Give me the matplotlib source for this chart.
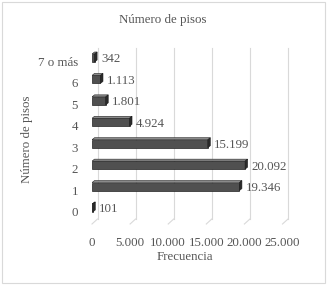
import matplotlib
matplotlib.use("Agg")
import matplotlib.pyplot as plt
from matplotlib.patches import Polygon, Rectangle

categories = ["0", "1", "2", "3", "4", "5", "6", "7 o más"]
values = [101, 19346, 20092, 15199, 4924, 1801, 1113, 342]
value_labels = ["101", "19.346", "20.092", "15.199", "4.924", "1.801", "1.113", "342"]
xticks = [0, 5000, 10000, 15000, 20000, 25000]
xtick_labels = ["0", "5.000", "10.000", "15.000", "20.000", "25.000"]
title = "Número de pisos"
xlabel = "Frecuencia"
ylabel = "Número de pisos"

W, H = 327, 285
DPI = 100
plt.rcParams['font.family'] = ['Liberation Serif', 'DejaVu Serif']
FS = 9.3
TXT = "#555555"

fig = plt.figure(figsize=(W / DPI, H / DPI), dpi=DPI)
fig.patch.set_facecolor("white")

# axes geometry in pixels
x0px, x1px = 92, 282.5
ytop_px, ybot_px = 48, 224
ax = fig.add_axes([x0px / W, (H - ybot_px) / H, (x1px - x0px) / W, (ybot_px - ytop_px) / H])
ax.set_facecolor("none")
xmax = 25000
ax.set_xlim(0, xmax)
sp = 21.43  # px per category
y0_px = 208
ax.set_ylim(-(ybot_px - y0_px) / sp, (len(categories) - 1) + (y0_px - (len(categories) - 1) * sp - ytop_px) / sp)

pxx = xmax / (x1px - x0px)  # data units per px (x)
pxy = 1.0 / sp             # data units per px (y)

# floor / gridlines
fdx, fdy = 5.5 * pxx, 5 * pxy
yfront = -(ybot_px - y0_px) / sp
yback = yfront + fdy
ytop = ax.get_ylim()[1]
gcol = "#D9D9D9"
for v in xticks:
    ax.plot([v, v + fdx], [yfront, yback], color=gcol, lw=0.8, clip_on=False, zorder=1)
    ax.plot([v + fdx, v + fdx], [yback, ytop], color=gcol, lw=0.8, clip_on=False, zorder=1)

# 3D bars
bh = 8 * pxy
bdx, bdy = 2.5 * pxx, 2.0 * pxy
for i, v in enumerate(values):
    yb, yt = i - bh / 2, i + bh / 2
    ax.add_patch(Polygon([(0, yb), (v, yb), (v, yt), (0, yt)], closed=True,
                         facecolor="#505050", edgecolor="#222222", lw=0.5, zorder=3))
    ax.add_patch(Polygon([(0, yt), (v, yt), (v + bdx, yt + bdy), (bdx, yt + bdy)], closed=True,
                         facecolor="#8a8a8a", edgecolor="#222222", lw=0.4, zorder=3))
    ax.add_patch(Polygon([(v, yb), (v + bdx, yb + bdy), (v + bdx, yt + bdy), (v, yt)], closed=True,
                         facecolor="#2a2a2a", edgecolor="#1a1a1a", lw=0.4, zorder=3))
    ax.text(v + 6.5 * pxx, i - 1.5 * pxy, value_labels[i], ha="left", va="center",
            fontsize=FS, color=TXT, zorder=4)

# ticks
ax.set_xticks(xticks)
ax.set_xticklabels(xtick_labels, fontsize=FS, color=TXT)
ax.set_yticks([i - 3.5 * pxy for i in range(len(categories))])
ax.set_yticklabels(categories, fontsize=FS, color=TXT)
ax.tick_params(axis="both", length=0)
ax.tick_params(axis="x", pad=9)
ax.tick_params(axis="y", pad=10)
for s in ax.spines.values():
    s.set_visible(False)

# titles
fig.text(163 / W, 1 - 20 / H, title, ha="center", va="center", fontsize=FS, color=TXT)
fig.text(185 / W, 1 - 257 / H, xlabel, ha="center", va="center", fontsize=FS, color=TXT)
fig.text(27 / W, 1 - 139.5 / H, ylabel, ha="center", va="center", rotation=90, fontsize=FS, color=TXT)

# chart border
fig.patches.append(Rectangle((2 / W, 2 / H), (W - 4) / W, (H - 4) / H, transform=fig.transFigure,
                             fill=False, edgecolor="#D9D9D9", lw=0.8))

fig.savefig("out.png", dpi=DPI, facecolor="white")
